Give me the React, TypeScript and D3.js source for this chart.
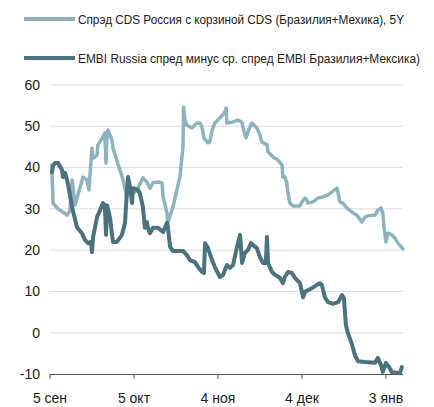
import React from "react";
import * as d3 from "d3";

// Days since 5 Sep and values (spread, bp-like units)
const cdsSeries: [number, number][] = [
  [0.6, 40.6], [1.1, 31.4], [2.5, 30.2], [4.6, 29.2], [6.1, 28.5], [7.1, 29.5], [7.9, 37],
  [8.9, 30.9], [11.8, 37.7], [13.2, 37], [13.9, 34.6], [15, 44.7], [15.4, 42.3], [16.8, 43],
  [17.1, 45.5], [18.9, 47.4], [19.6, 48.4], [20, 41.1], [20.4, 48.4], [20.7, 49.1], [22.1, 46.7],
  [22.5, 44.7], [25, 39.4], [26.1, 37], [27.5, 32.9], [27.9, 35.8], [29.3, 33.4], [31.1, 34.6],
  [33.2, 37.5], [34.6, 36.5], [35.7, 35], [36.8, 36.3], [38.6, 36.5], [40, 36.3], [40.4, 32.9],
  [41.8, 29], [42.1, 26.6], [43.9, 30.4], [46.4, 37.7], [47.5, 45], [47.7, 54.7], [48.2, 51.5],
  [48.9, 50.3], [50.7, 49.6], [52.5, 50.8], [53.6, 50.8], [54.3, 49.8], [55, 47.2], [56.4, 46],
  [57.1, 46.2], [57.9, 49.1], [58.9, 50.8], [60.7, 52], [62.5, 53.5], [62.9, 54.4], [63.2, 50.8],
  [65, 51], [67.1, 51.5], [68.6, 51], [68.9, 49.8], [70, 47.2], [70.7, 48.6], [72.1, 50.8],
  [73.9, 49.6], [75, 47.9], [75.7, 46.2], [77.5, 45.5], [77.9, 43.8], [79.6, 42.6], [81.4, 41.8],
  [82.9, 40.6], [83.2, 37.7], [83.9, 37.7], [84.6, 36.3], [85, 33.8], [85.7, 31.4], [86.8, 30.7],
  [89.3, 30.7], [90, 31.7], [91.1, 32.6], [91.8, 32.1], [92.1, 31.4], [93.9, 31.7], [95.7, 32.6],
  [97.5, 32.9], [99.3, 33.4], [102.5, 35], [102.9, 33.8], [103.6, 31.7], [104.6, 31.4],
  [106.1, 30.2], [107.9, 29.2], [109.6, 28.5], [111.4, 26.8], [112.5, 28], [113.6, 28.3],
  [116.1, 28.5], [117.1, 29.7], [118.2, 30.2], [118.9, 29], [119.3, 25.6], [120, 22],
  [120.7, 24.1], [122.1, 23.7], [123.2, 22.9], [124.3, 21.7], [126.1, 20.3],
];

const embiSeries: [number, number][] = [
  [0.7, 38.9], [1.1, 40.4], [1.8, 41.1], [2.9, 41.1], [4.3, 39.4], [4.6, 37.7], [5.4, 38.7],
  [6.1, 37], [6.8, 34.6], [7.9, 30.4], [9.6, 25.6], [11.4, 24.1], [12.5, 22.5], [13.6, 21.7],
  [14.6, 22], [15, 19.5], [15.4, 23.2], [16.8, 28], [17.9, 29.7], [18.9, 31.4], [19.6, 30.9],
  [20, 23.7], [20.4, 30.9], [21.4, 28], [22.1, 24.1], [22.5, 22], [23.9, 22], [25.7, 23.7],
  [26.8, 26.6], [27.5, 34.6], [27.9, 37.7], [28.6, 35.3], [29.3, 31.4], [29.6, 35], [31.4, 34.6],
  [32.1, 33.8], [33.2, 30.4], [33.9, 25.4], [34.6, 26.8], [35, 25.4], [35.7, 24.1], [36.8, 25.4],
  [38.6, 25.4], [40.4, 24.4], [41.8, 26.6], [42.1, 25.6], [42.9, 20.8], [43.9, 19.8], [47.5, 19.8],
  [48.9, 18.8], [50, 17.6], [51.8, 17.1], [52.9, 15.9], [54.3, 14.7], [55, 14.5], [55.4, 21.7],
  [56.4, 20.5], [57.9, 17.6], [58.9, 15.9], [60.7, 13.5], [61.8, 14], [63.2, 16.4], [64.3, 15.7],
  [65.4, 16.4], [66.8, 20.8], [67.9, 23.7], [68.6, 16.9], [69.6, 19.3], [70.7, 20], [71.8, 21.7],
  [72.5, 21.2], [73.9, 20.5], [75, 18.3], [76.1, 16.9], [77.1, 16.9], [77.5, 23.2], [77.9, 16.9],
  [79.3, 14.7], [80.4, 14], [82.1, 13.3], [83.2, 12], [83.9, 13.5], [85, 14.7], [86.4, 14.5],
  [87.5, 13.3], [89.3, 12], [90.4, 8.6], [91.1, 9.9], [92.1, 10.3], [93.6, 10.8], [95.4, 11.6],
  [96.4, 12], [97.1, 11.6], [98.2, 8.6], [99.3, 7.4], [101.1, 7], [102.9, 7.4], [104.3, 9.1],
  [105, 8.4], [105.7, 1.9], [106.4, 0], [107.9, -2.9], [108.9, -5.4], [110, -6.9], [112.5, -7.1],
  [116.1, -7.3], [117.1, -6.1], [118.2, -7.8], [118.9, -9.5], [120, -7.3], [121.1, -8.3],
  [122.1, -9.5], [125, -9.8], [125.7, -8.3],
];

const seriesNames = [
  "Спрэд CDS Россия с корзиной CDS (Бразилия+Мехика), 5Y",
  "EMBI Russia спред минус ср. спред EMBI Бразилия+Мексика)",
];
const yTicks = [60, 50, 40, 30, 20, 10, 0, -10];
const xTickDays = [0, 30, 60, 90, 120];
const xTickLabels = ["5 сен", "5 окт", "4 ноя", "4 дек", "3 янв"];

const START = Date.UTC(2013, 8, 5);
const DAY = 86400000;
const toDate = (d: number) => new Date(START + d * DAY);

export default function App() {
  const x = d3.scaleUtc().domain([toDate(0), toDate(126.1)]).range([50, 403]);
  const y = d3.scaleLinear().domain([-10, 60]).range([374, 85]);
  const line = d3
    .line<[number, number]>()
    .x((d) => x(toDate(d[0])))
    .y((d) => y(d[1]));
  const light = "#8cb3be";
  const dark = "#4a737d";
  const font = "'Liberation Sans', Arial, sans-serif";
  return (
    <svg
      width={434}
      height={407}
      style={{ position: "absolute", left: 0, top: 0, background: "#fff" }}
      fontFamily={font}
    >
      {yTicks.map((t) => (
        <g key={t}>
          {t !== -10 && (
            <line x1={50} x2={403} y1={y(t)} y2={y(t)} stroke="#dcdcdc" strokeWidth={1} />
          )}
          <text x={40} y={y(t)} dy="0.35em" textAnchor="end" fontSize={14} fill="#222">
            {t}
          </text>
        </g>
      ))}
      <line x1={50} x2={403} y1={374.5} y2={374.5} stroke="#555" strokeWidth={1} />
      {xTickDays.map((d, i) => (
        <g key={d}>
          <line x1={x(toDate(d))} x2={x(toDate(d))} y1={374} y2={379} stroke="#555" />
          <text x={x(toDate(d))} y={403} textAnchor="middle" fontSize={14} fill="#222">
            {xTickLabels[i]}
          </text>
        </g>
      ))}
      <path d={line(cdsSeries) || ""} fill="none" stroke={light} strokeWidth={3.5} strokeLinejoin="round" strokeLinecap="round" />
      <path d={line(embiSeries) || ""} fill="none" stroke={dark} strokeWidth={4} strokeLinejoin="round" strokeLinecap="round" />
      <line x1={24} x2={75} y1={19} y2={19} stroke={light} strokeWidth={4} />
      <text x={78} y={23.5} fontSize={12} fill="#222" textLength={326} lengthAdjust="spacingAndGlyphs">
        {seriesNames[0]}
      </text>
      <line x1={24} x2={75} y1={58} y2={58} stroke={dark} strokeWidth={4} />
      <text x={78} y={62.5} fontSize={12} fill="#222" textLength={342} lengthAdjust="spacingAndGlyphs">
        {seriesNames[1]}
      </text>
    </svg>
  );
}
